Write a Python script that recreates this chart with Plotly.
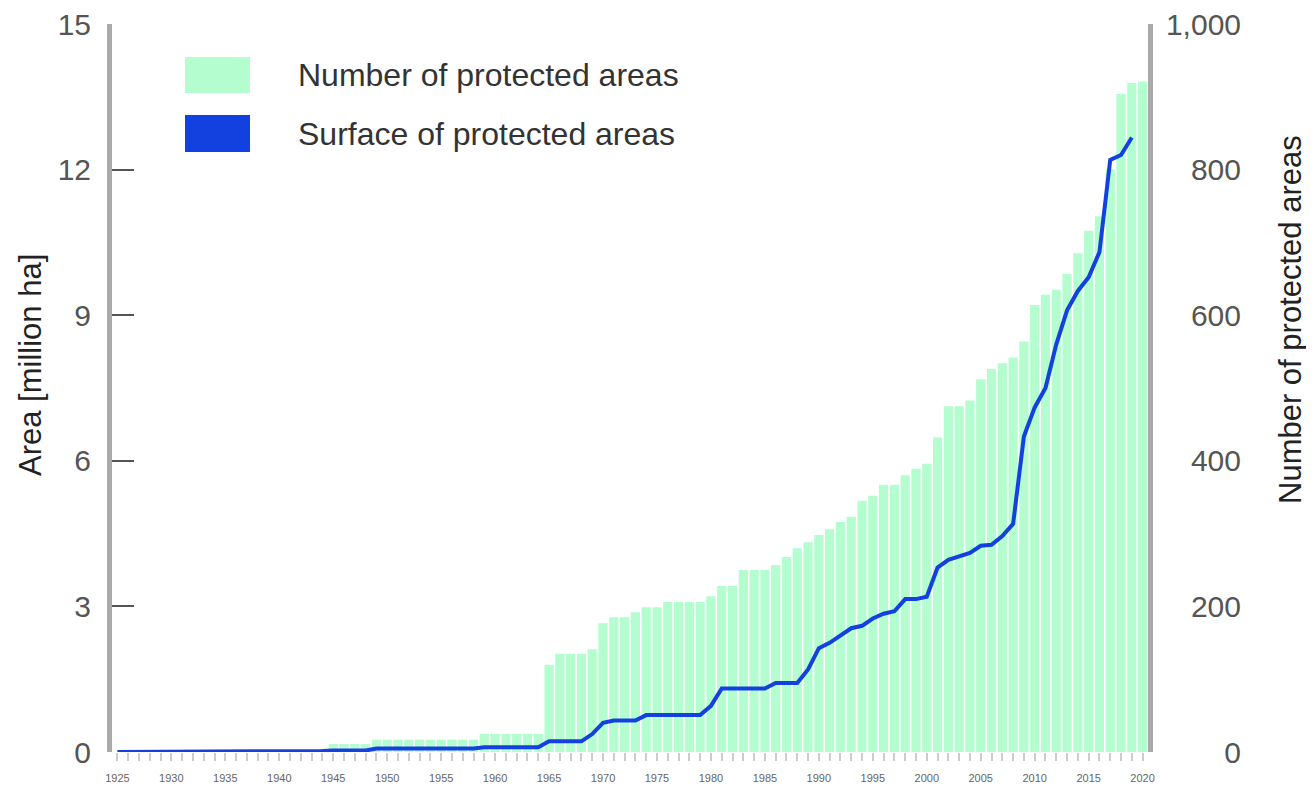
import plotly.graph_objects as go

years = list(range(1925, 2021))
tick_years = list(range(1925, 2021, 5))

# Number of protected areas (right axis)
counts = ([None] * 20 +
          [11, 11, 11, 11] +
          [17] * 10 +
          [25] * 6 +
          [120, 135, 135, 135, 141, 177, 185, 185, 192, 199, 199,
           206, 206, 206, 206, 214, 228, 228, 250, 250, 250, 257,
           268, 280, 288, 298, 306, 316, 323, 345, 352, 367, 367,
           380, 389, 396, 432, 475, 475, 483, 512, 526, 534, 542,
           564, 614, 628, 635, 657, 685, 716, 736, 800, 904, 919, 921])

# Surface of protected areas (left axis, million ha)
area = ([0] * 19 + [0.02] +
        [0.03] * 4 +
        [0.07] * 10 +
        [0.1] * 6 +
        [0.22] * 4 +
        [0.37, 0.6, 0.65, 0.65, 0.65,
         0.76, 0.76, 0.76, 0.76, 0.76, 0.76,
         0.95, 1.31, 1.31, 1.31, 1.31, 1.31,
         1.42, 1.42, 1.42, 1.7, 2.14, 2.25, 2.4, 2.55, 2.6, 2.75,
         2.85, 2.9, 3.15, 3.15, 3.2, 3.8, 3.96, 4.04, 4.1, 4.25,
         4.27, 4.45, 4.7, 6.5, 7.1, 7.5, 8.4, 9.1, 9.5, 9.78,
         10.3, 12.2, 12.3, 12.66, None])

assert len(counts) == len(years) == len(area)

OFF = 8  # default page body margin
W, H = 1314 - OFF, 789 - OFF
L, R, T, B = 112 - OFF, 1148 - OFF, 24 - OFF, 752 - OFF  # plot area in figure pixels


def dx(px):  # screen px -> x domain fraction
    return (px - OFF - L) / (R - L)


def dy(py):  # screen py -> y domain fraction
    return (B - (py - OFF)) / (B - T)


paper_w = W - L


def px_paper(px):
    return (px - OFF - L) / paper_w


GREEN = "#b3fdcf"
BLUE = "#1341e0"

fig = go.Figure()
fig.add_trace(go.Bar(x=years, y=counts, marker=dict(color=GREEN, line=dict(width=0)),
                     yaxis="y", name="Number of protected areas", showlegend=False))
fig.add_trace(go.Scatter(x=years, y=area, mode="lines", line=dict(color=BLUE, width=4),
                         yaxis="y2", name="Surface of protected areas", showlegend=False,
                         connectgaps=False))

fig.update_layout(
    width=W, height=H,
    margin=dict(l=L, r=0, t=T, b=H - B, autoexpand=False),
    paper_bgcolor="white", plot_bgcolor="white",
    font=dict(family="Liberation Sans, Arial, sans-serif", color="#444"),
    bargap=0.15,
    xaxis=dict(domain=[0, (R - L) / paper_w], range=[1924.5, 2020.5],
               tickvals=tick_years, ticktext=[str(y) for y in tick_years],
               tickfont=dict(size=11, color="#666"),
               ticks="outside", ticklen=8, tickcolor="#ccc", tickwidth=2,
               minor=dict(dtick=1, tick0=1925, ticks="outside", ticklen=8, tickcolor="#ccc", tickwidth=2),
               showline=False, showgrid=False, zeroline=False,
               ticklabelstandoff=8, anchor="y", ticklabeloverflow="allow"),
    yaxis=dict(range=[0, 1000], tickvals=[0, 200, 400, 600, 800, 1000],
               tickformat=",", side="left", anchor="free", position=px_paper(1241),
               showline=False, showgrid=False, zeroline=False, ticks="",
               tickfont=dict(size=30, color="#555"), ticklabeloverflow="allow"),
    yaxis2=dict(range=[0, 15], tickvals=[0, 3, 6, 9, 12, 15], overlaying="y",
                side="left", anchor="x", showline=True, mirror=True,
                linecolor="#aaaaaa", linewidth=5,
                ticks="inside", ticklen=22, tickwidth=2, tickcolor="#555",
                showgrid=False, zeroline=False,
                tickfont=dict(size=30, color="#555"), ticklabelstandoff=10,
                ticklabeloverflow="allow"),
)

# Legend drawn with shapes + text
fig.add_shape(type="rect", xref="x domain", yref="y domain",
              x0=dx(185), x1=dx(250), y0=dy(93), y1=dy(57),
              fillcolor=GREEN, line=dict(width=0))
fig.add_shape(type="rect", xref="x domain", yref="y domain",
              x0=dx(185), x1=dx(250), y0=dy(152), y1=dy(115),
              fillcolor=BLUE, line=dict(width=0))
fig.add_annotation(xref="x domain", yref="y domain", x=dx(296), y=dy(75),
                   text="Number of protected areas", showarrow=False,
                   xanchor="left", yanchor="middle", font=dict(size=32, color="#333"))
fig.add_annotation(xref="x domain", yref="y domain", x=dx(296), y=dy(134),
                   text="Surface of protected areas", showarrow=False,
                   xanchor="left", yanchor="middle", font=dict(size=32, color="#333"))

# Axis titles
fig.add_annotation(xref="paper", yref="paper", x=px_paper(30), y=dy(365),
                   text="Area [million ha]", showarrow=False, textangle=-90,
                   xanchor="center", yanchor="middle", font=dict(size=31, color="#222"))
fig.add_annotation(xref="paper", yref="paper", x=px_paper(1290), y=dy(320),
                   text="Number of protected areas", showarrow=False, textangle=-90,
                   xanchor="center", yanchor="middle", font=dict(size=31, color="#222"))

fig.write_html("out.html")
